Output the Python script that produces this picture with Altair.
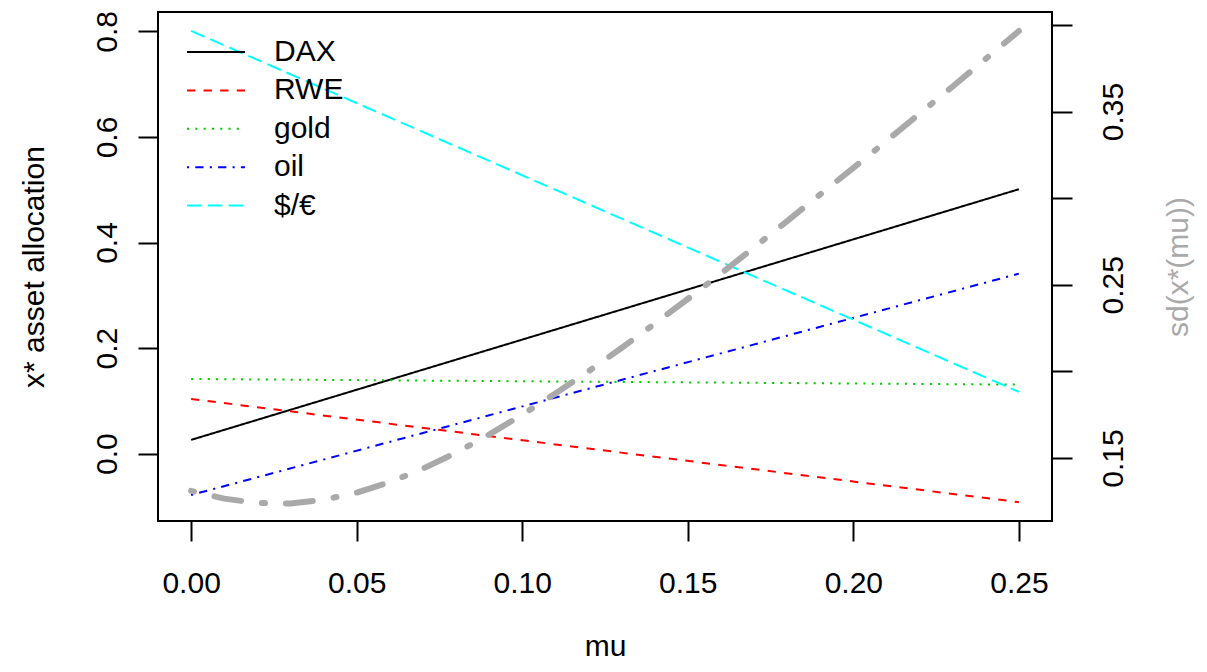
import altair as alt
import pandas as pd

# ---- data ----
assets = ["DAX", "RWE", "gold", "oil", "$/€"]
mu_ends = [0.0, 0.25]
dax = [0.026, 0.501]
rwe = [0.1035, -0.092]
gold = [0.1414, 0.1307]
oil = [-0.0784, 0.341]
usd_eur = [0.801, 0.117]

mu_grid = [0.00, 0.01, 0.02, 0.03, 0.04, 0.05, 0.06, 0.07, 0.08, 0.09,
           0.10, 0.11, 0.12, 0.13, 0.14, 0.15, 0.16, 0.17, 0.18, 0.19,
           0.20, 0.21, 0.22, 0.23, 0.24, 0.25]
sd_values = [0.1310, 0.1265, 0.1240, 0.1237, 0.1258, 0.1300, 0.1360, 0.1438,
             0.1530, 0.1635, 0.1750, 0.1872, 0.2000, 0.2135, 0.2275, 0.2418,
             0.2565, 0.2715, 0.2868, 0.3022, 0.3175, 0.3330, 0.3488, 0.3645,
             0.3805, 0.3965]

x_ticks = [0.00, 0.05, 0.10, 0.15, 0.20, 0.25]
left_ticks = [0.0, 0.2, 0.4, 0.6, 0.8]
right_ticks = [0.15, 0.20, 0.25, 0.30, 0.35, 0.40]

colors = ["#000000", "#FF0000", "#00CD00", "#0000FF", "#00FFFF"]
dashes = [[1, 0], [8.3, 8.3], [2.1, 6.2], [2.1, 6.2, 8.3, 6.2], [14.6, 6.2]]

series = dict(zip(assets, [dax, rwe, gold, oil, usd_eur]))
rows = []
for name in assets:
    for m, v in zip(mu_ends, series[name]):
        rows.append({"mu": m, "allocation": v, "asset": name})
df = pd.DataFrame(rows)
sd_df = pd.DataFrame({"mu": mu_grid, "sd": sd_values})

FONT = "Liberation Sans"
FS = 30

x_enc = alt.X(
    "mu:Q",
    scale=alt.Scale(domain=[-0.01, 0.26], nice=False, zero=False),
    axis=alt.Axis(values=x_ticks, format=".2f", title="mu",
                  labelBaseline="alphabetic", labelPadding=51, tickSize=20,
                  titleBaseline="alphabetic", titleX=447, titleY=134,
                  titleAnchor="middle", titleAlign="center"),
)

legend = alt.Legend(orient="none", legendX=28, legendY=21, title=None,
                    symbolType="stroke", symbolSize=3364, symbolStrokeWidth=2,
                    labelFontSize=FS, labelFont=FONT, labelOffset=28,
                    clipHeight=38, rowPadding=0.4, padding=0)

lines = alt.Chart(df).mark_line(strokeWidth=2).encode(
    x=x_enc,
    y=alt.Y(
        "allocation:Q",
        scale=alt.Scale(domain=[-0.1277, 0.8368], nice=False, zero=False),
        axis=alt.Axis(values=left_ticks, format=".1f", title="x* asset allocation",
                      orient="left", labelAngle=270, labelAlign="center",
                      labelBaseline="alphabetic", labelPadding=22, tickSize=20,
                      titleAngle=270, titleBaseline="alphabetic", titleAlign="center",
                      titleX=-115, titleY=254.5),
    ),
    color=alt.Color("asset:N", scale=alt.Scale(domain=assets, range=colors), legend=legend),
    strokeDash=alt.StrokeDash("asset:N", scale=alt.Scale(domain=assets, range=dashes), legend=legend),
    detail="asset:N",
)

sd_line = alt.Chart(sd_df).mark_line(
    color="#A9A9A9", strokeWidth=6, strokeDash=[3, 21, 27, 21], strokeCap="round"
).encode(
    x=alt.X("mu:Q"),
    y=alt.Y(
        "sd:Q",
        scale=alt.Scale(domain=[0.1136, 0.4075], nice=False, zero=False),
        axis=alt.Axis(values=right_ticks, title="sd(x*(mu))", orient="right",
                      labelExpr="(round(datum.value*100) % 10 == 5) ? format(datum.value, '.2f') : ''",
                      labelAngle=270, labelAlign="center", labelBaseline="alphabetic",
                      labelPadding=50, tickSize=20,
                      titleAngle=270, titleBaseline="alphabetic", titleAlign="center",
                      titleX=135, titleY=254.5, titleColor="#A9A9A9"),
    ),
)

chart = alt.layer(lines, sd_line).resolve_scale(y="independent").properties(
    width=894, height=509,
    autosize=alt.AutoSizeParams(type="none"),
    padding={"left": 150, "top": 4, "right": 147, "bottom": 143},
    background="white",
).configure_view(
    stroke="black", strokeWidth=2
).configure_axis(
    domain=False, grid=False, tickColor="black", tickWidth=2,
    labelFont=FONT, titleFont=FONT, labelFontSize=FS, titleFontSize=FS,
    labelColor="black", titleFontWeight="normal", titleColor="black",
    labelOverlap=False, labelFlush=False,
)

chart.save("out.html", embed_options={"renderer": "svg", "actions": False})
